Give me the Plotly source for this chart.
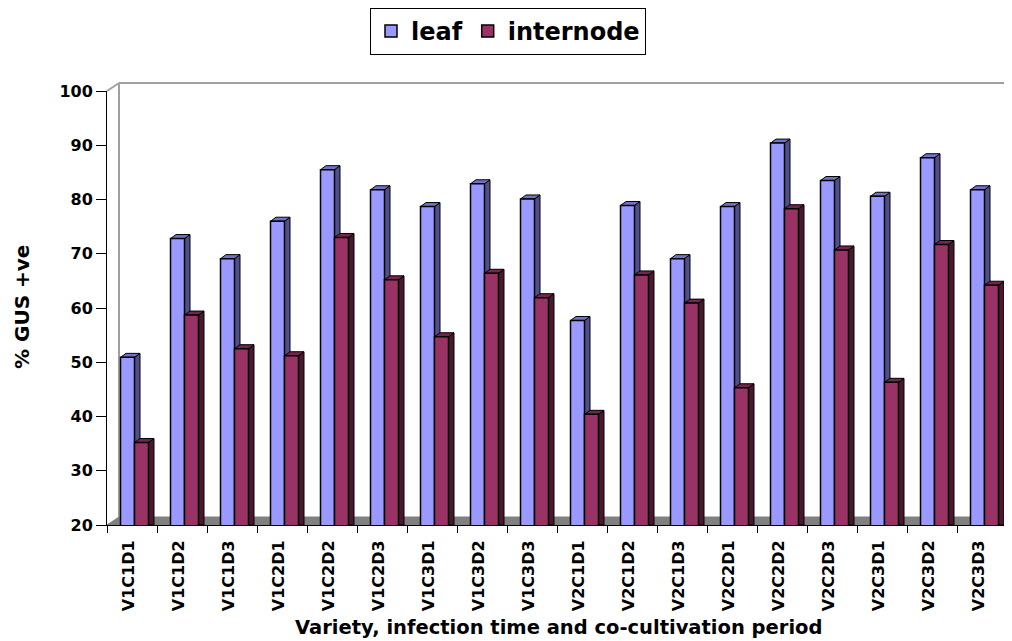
import plotly.graph_objects as go

categories = ["V1C1D1", "V1C1D2", "V1C1D3", "V1C2D1", "V1C2D2", "V1C2D3",
              "V1C3D1", "V1C3D2", "V1C3D3", "V2C1D1", "V2C1D2", "V2C1D3",
              "V2C2D1", "V2C2D2", "V2C2D3", "V2C3D1", "V2C3D2", "V2C3D3"]
leaf = [50.9, 72.8, 69.1, 76.0, 85.5, 81.8, 78.7, 82.9, 80.1,
        57.7, 78.9, 69.1, 78.7, 90.4, 83.5, 80.6, 87.7, 81.8]
internode = [35.2, 58.7, 52.5, 51.2, 73.0, 65.2, 54.7, 66.4, 61.9,
             40.4, 66.1, 60.9, 45.3, 78.3, 70.7, 46.3, 71.7, 64.2]
y_ticks = [20, 30, 40, 50, 60, 70, 80, 90, 100]

FONT = "DejaVu Sans"
PAGE_OFF = 8                     # page body margin
W, H = 1012 - PAGE_OFF, 641 - PAGE_OFF
# plot area in page pixels: x 107..1007, y 91..525
ML = 107 - PAGE_OFF
MT = 91 - PAGE_OFF
MR = W - (1007 - PAGE_OFF)
MB = H - (525 - PAGE_OFF)
PW, PH = W - ML - MR, H - MT - MB
YMIN, YMAX = 20, 100
NCAT = len(categories)


def px_x(p):  # page px -> paper x
    return (p - PAGE_OFF - ML) / PW


def px_y(p):  # page px -> paper y
    return (H - MB - (p - PAGE_OFF)) / PH


BW = 0.28
OFF_LEAF, OFF_INT = -0.23, 0.05
DX = 5.5 / (PW / NCAT)           # bar depth in x data units
DY = 4.0 / (PH / (YMAX - YMIN))  # bar depth in y data units

idx = list(range(NCAT))

series = [
    ("leaf", leaf, OFF_LEAF, "#9999FF", "#4F4F8C", "#7272C8"),
    ("internode", internode, OFF_INT, "#993366", "#4A1830", "#74254D"),
]

fig = go.Figure()
shapes = []

# floor (paper coords)
fx, fy = 12 / PW, 8 / PH
shapes.append(dict(type="path", xref="paper", yref="paper", layer="below",
                   path=f"M 0 0 L 1 0 L {1+fx} {fy} L {fx} {fy} Z",
                   fillcolor="#808080", line=dict(color="#808080", width=1)))
# walls
wall = dict(color="#A0A0A0", width=2)
shapes.append(dict(type="line", xref="paper", yref="paper", layer="below",
                   x0=0, y0=1, x1=fx, y1=1 + fy, line=wall))
shapes.append(dict(type="line", xref="paper", yref="paper", layer="below",
                   x0=fx, y0=fy, x1=fx, y1=1 + fy, line=wall))
shapes.append(dict(type="line", xref="paper", yref="paper", layer="below",
                   x0=fx, y0=1 + fy, x1=1 + 2 * fx, y1=1 + fy, line=wall))

for name, vals, off, front, side, top in series:
    fig.add_trace(go.Bar(
        name=name, x=idx, y=vals, width=BW, offset=off,
        marker=dict(color=front, line=dict(color="black", width=1.5)),
        hoverinfo="skip"))
    for i, v in zip(idx, vals):
        x0 = i + off
        x1 = x0 + BW
        shapes.append(dict(
            type="path", xref="x", yref="y", layer="below",
            path=f"M {x1} {YMIN} L {x1} {v} L {x1+DX} {v+DY} L {x1+DX} {YMIN} Z",
            fillcolor=side, line=dict(color="black", width=1)))
        shapes.append(dict(
            type="path", xref="x", yref="y", layer="below",
            path=f"M {x0} {v} L {x0+DX} {v+DY} L {x1+DX} {v+DY} L {x1} {v} Z",
            fillcolor=top, line=dict(color="black", width=1)))

annotations = [
    dict(text="% GUS +ve", xref="paper", yref="paper",
         x=px_x(22), y=px_y(307), textangle=-90,
         showarrow=False, xanchor="center", yanchor="middle",
         font=dict(family=FONT, size=20, color="black", weight="bold")),
    dict(text="Variety, infection time and co-cultivation period",
         xref="paper", yref="paper",
         x=px_x(558), y=px_y(627),
         showarrow=False, xanchor="center", yanchor="middle",
         font=dict(family=FONT, size=19.5, color="black", weight="bold")),
]

fig.update_layout(
    width=W, height=H,
    margin=dict(l=ML, r=MR, t=MT, b=MB, pad=0, autoexpand=False),
    paper_bgcolor="white", plot_bgcolor="white",
    barmode="overlay",
    shapes=shapes, annotations=annotations,
    showlegend=True,
    legend=dict(orientation="h", xref="paper", yref="paper",
                x=px_x(508), y=px_y(PAGE_OFF),
                xanchor="center", yanchor="top",
                bordercolor="black", borderwidth=1, bgcolor="white",
                font=dict(family=FONT, size=24, color="black", weight="bold"),
                itemwidth=30, traceorder="normal"),
    xaxis=dict(range=[-0.5, NCAT - 0.5], tickmode="array",
               tickvals=[i - 0.07 for i in idx], ticktext=categories,
               tickangle=-90, ticks="outside", ticklen=8,
               tickcolor="rgba(0,0,0,0)", automargin=False,
               showline=True, linecolor="black", linewidth=1,
               showgrid=False, zeroline=False,
               tickfont=dict(family=FONT, size=16, color="black", weight="bold"),
               minor=dict(tickmode="array",
                          tickvals=[i - 0.5 for i in range(NCAT + 1)],
                          ticks="outside", ticklen=7, tickcolor="black",
                          showgrid=False)),
    yaxis=dict(range=[YMIN, YMAX], tickmode="array", tickvals=y_ticks,
               ticks="outside", ticklen=10, tickcolor="black", automargin=False,
               showline=True, linecolor="black", linewidth=1,
               showgrid=False, zeroline=False,
               tickfont=dict(family=FONT, size=16, color="black", weight="bold")),
)

fig.write_html("out.html")
